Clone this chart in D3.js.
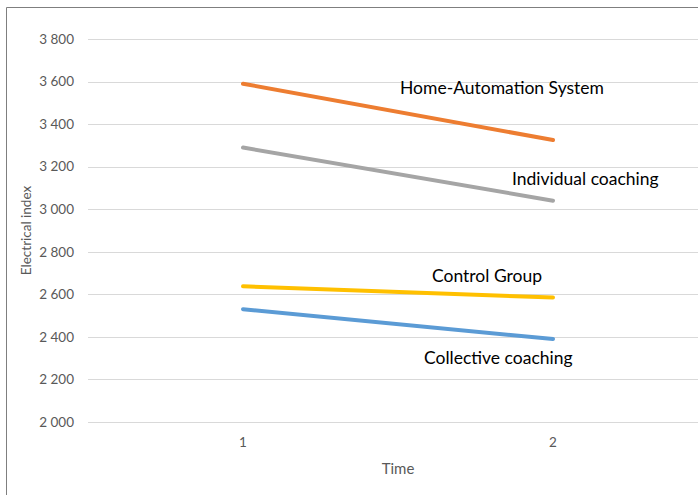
<!DOCTYPE html>
<html>
<head>
<meta charset="utf-8">
<script src="https://cdn.jsdelivr.net/npm/d3@7"></script>
<style>
	body{margin:0;background:#fff;}
	svg{display:block;font-family:Lato, "Open Sans", sans-serif;}
</style>
</head>
<body>
<div id="chart"></div>
<script>
var times = ["1", "2"];
var seriesNames = ["Home-Automation System", "Individual coaching", "Control Group", "Collective coaching"];
var homeAutomation = [3590, 3325];
var individualCoaching = [3290, 3040];
var controlGroup = [2638, 2585];
var collectiveCoaching = [2530, 2390];
var yTicks = [2000, 2200, 2400, 2600, 2800, 3000, 3200, 3400, 3600, 3800];

var colors = ["#ed7d31", "#a5a5a5", "#ffc000", "#5b9bd5"];
var labelPos = [
	{x: 400, y: 94},
	{x: 512, y: 185},
	{x: 432, y: 282},
	{x: 424, y: 364}
];

var w = 698, h = 495;
var svg = d3.select("#chart").append("svg").attr("width", w).attr("height", h);

// chart frame (cropped on right/bottom)
svg.append("path")
	.attr("d", "M6.5," + h + "V7.5H" + w)
	.attr("fill", "none")
	.attr("stroke", "#7f7f7f")
	.attr("stroke-width", 1);

var x = d3.scalePoint().domain(times).range([243, 553]);
var y = d3.scaleLinear().domain([2000, 3800]).range([422, 39]);

// gridlines
svg.append("g").selectAll("line")
	.data(yTicks)
	.enter().append("line")
	.attr("x1", 88).attr("x2", w)
	.attr("y1", function(d){ return Math.round(y(d)) + 0.5; })
	.attr("y2", function(d){ return Math.round(y(d)) + 0.5; })
	.attr("stroke", "#d9d9d9")
	.attr("stroke-width", 1);

var fmt = function(d){ return d3.format(",")(d).replace(",", " "); };

svg.append("g").selectAll("text")
	.data(yTicks)
	.enter().append("text")
	.attr("x", 74)
	.attr("y", function(d){ return y(d); })
	.attr("dy", "0.35em")
	.attr("text-anchor", "end")
	.attr("font-size", 13.5)
	.attr("fill", "#595959")
	.text(fmt);

svg.append("g").selectAll("text")
	.data(times)
	.enter().append("text")
	.attr("x", function(d){ return x(d); })
	.attr("y", 447)
	.attr("text-anchor", "middle")
	.attr("font-size", 13.5)
	.attr("fill", "#595959")
	.text(function(d){ return d; });

svg.append("text")
	.attr("x", 398).attr("y", 474)
	.attr("text-anchor", "middle")
	.attr("font-size", 15)
	.attr("fill", "#595959")
	.text("Time");

svg.append("text")
	.attr("transform", "translate(31," + ((39 + 422) / 2) + ") rotate(-90)")
	.attr("text-anchor", "middle")
	.attr("font-size", 13.5)
	.attr("fill", "#595959")
	.text("Electrical index");

var allSeries = [homeAutomation, individualCoaching, controlGroup, collectiveCoaching];

var line = d3.line()
	.x(function(d, i){ return x(times[i]); })
	.y(function(d){ return y(d); });

svg.append("g").selectAll("path")
	.data(allSeries)
	.enter().append("path")
	.attr("d", line)
	.attr("fill", "none")
	.attr("stroke", function(d, i){ return colors[i]; })
	.attr("stroke-width", 4)
	.attr("stroke-linecap", "round");

svg.append("g").selectAll("text")
	.data(seriesNames)
	.enter().append("text")
	.attr("x", function(d, i){ return labelPos[i].x; })
	.attr("y", function(d, i){ return labelPos[i].y; })
	.attr("font-size", 17.5)
	.attr("fill", "#000")
	.text(function(d){ return d; });
</script>
</body>
</html>
